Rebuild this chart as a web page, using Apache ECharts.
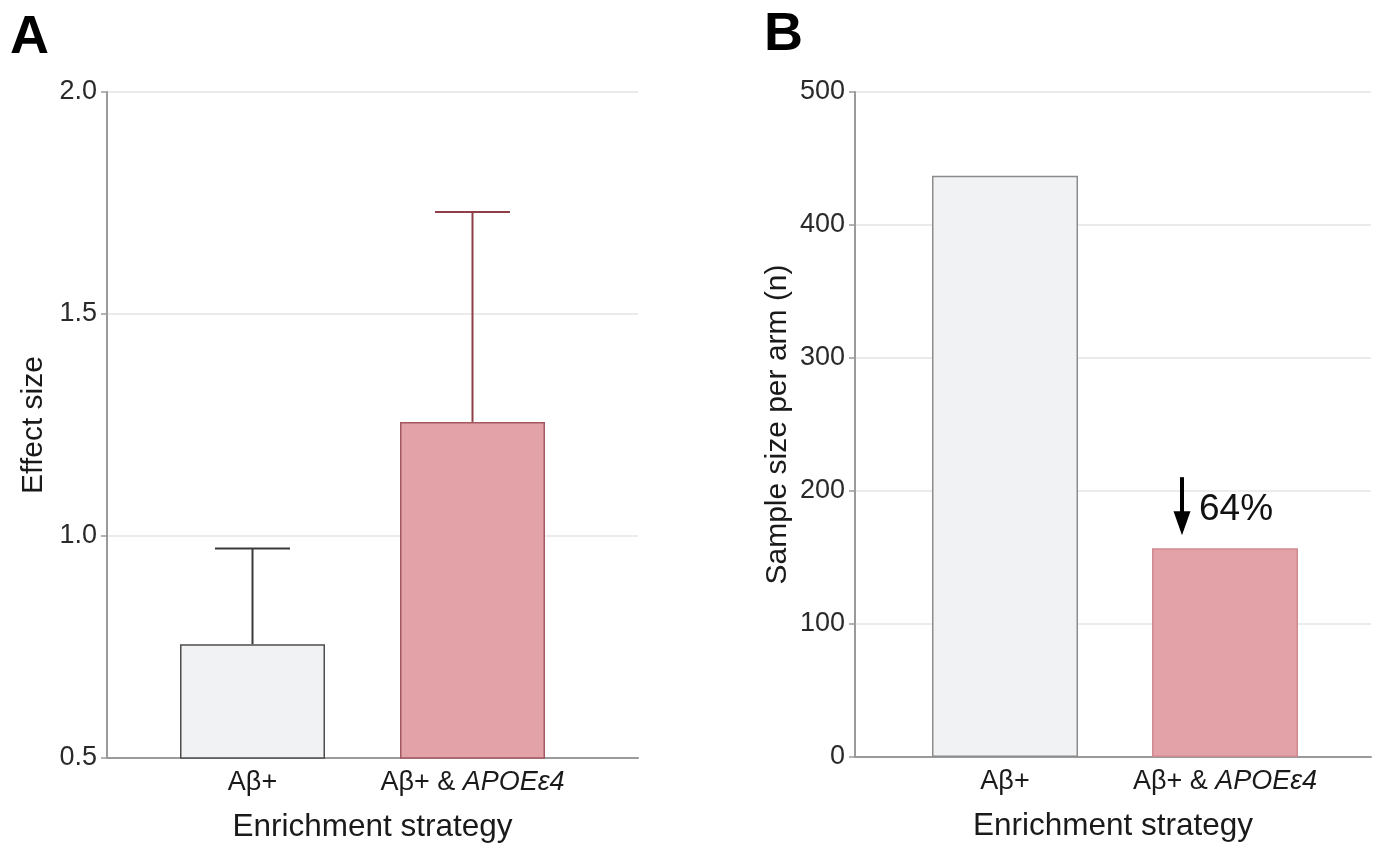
<!DOCTYPE html>
<html>
<head>
<meta charset="utf-8">
<script src="https://cdn.jsdelivr.net/npm/echarts@6/dist/echarts.min.js"></script>
<style>
  html, body { margin: 0; padding: 0; background: #fff; }
  #chart { width: 1376px; height: 848px; }
</style>
</head>
<body>
<div id="chart"></div>
<script>
// ---- data ----
const categories = ['Aβ+', 'Aβ+ & APOEε4'];
const effectSize = [0.756, 1.257];
const effectUpper = [0.972, 1.73];
const sampleSize = [437, 157];
const effectTicks = [0.5, 1.0, 1.5, 2.0];
const sampleTicks = [0, 100, 200, 300, 400, 500];

// ---- styles ----
const FONT = 'Liberation Sans, Arial, Helvetica, sans-serif';
const fills = ['#f1f2f4', '#e3a2a7'];
const strokesA = ['#4d4d4d', '#a35861'];
const strokesB = ['#8c8c8c', '#cf8a90'];
const errColors = ['#3a3a3a', '#8e3f47'];
const axisGray = '#9a9a9a';
const gridGray = '#e4e4e4';

const xPos = categories.map((c, i) => i + 1);

function catLabel(v) {
  const idx = Math.round(v) - 1;
  const s = categories[idx] || '';
  return s.replace('APOEε4', '{i|APOEε4}');
}

function makeX(gridIndex, min, max) {
  return {
    type: 'value', gridIndex, min, max,
    axisLine: { show: true, lineStyle: { color: axisGray, width: 2 } },
    axisTick: { show: false },
    splitLine: { show: false },
    axisLabel: {
      customValues: xPos,
      formatter: catLabel,
      color: '#1a1a1a', fontSize: 27, fontFamily: FONT, margin: 11,
      rich: { i: { fontStyle: 'italic', fontSize: 27, fontFamily: FONT, color: '#1a1a1a' } }
    },
    name: 'Enrichment strategy',
    nameLocation: 'middle', nameGap: 53,
    nameTextStyle: { fontSize: 31.5, fontFamily: FONT, color: '#1a1a1a' }
  };
}

function makeY(gridIndex, ticks, name, nameGap, fmt) {
  return {
    type: 'value', gridIndex,
    min: ticks[0], max: ticks[ticks.length - 1], interval: ticks[1] - ticks[0],
    axisLine: { show: true, lineStyle: { color: axisGray, width: 2 } },
    axisTick: { show: true, length: 6, lineStyle: { color: axisGray, width: 1.5 } },
    splitLine: { show: true, lineStyle: { color: gridGray, width: 1.5 } },
    axisLabel: { color: '#2a2a2a', fontSize: 27, fontFamily: FONT, margin: 10, formatter: fmt },
    name, nameLocation: 'middle', nameRotate: 90, nameGap,
    nameTextStyle: { fontSize: 30, fontFamily: FONT, color: '#1a1a1a' }
  };
}

const chart = echarts.init(document.getElementById('chart'), null, { renderer: 'canvas' });

const reduction = Math.round((1 - sampleSize[1] / sampleSize[0]) * 100) + '%';

chart.setOption({
  backgroundColor: '#fff',
  animation: false,
  graphic: [
    { type: 'text', left: 10, top: 11, style: { text: 'A', fontSize: 54, fontWeight: 'bold', fontFamily: FONT, fill: '#000' } },
    { type: 'text', left: 764, top: 8, style: { text: 'B', fontSize: 54, fontWeight: 'bold', fontFamily: FONT, fill: '#000' } }
  ],
  grid: [
    { left: 107, right: 1376 - 638, top: 92, bottom: 848 - 760, containLabel: false },
    { left: 855, right: 1376 - 1371, top: 92, bottom: 848 - 757, containLabel: false }
  ],
  xAxis: [
    makeX(0, 1 - 145.5 / 220, 2 + 165.5 / 220),
    makeX(1, 1 - 150 / 220, 2 + 146 / 220)
  ],
  yAxis: [
    makeY(0, effectTicks, 'Effect size', 58, v => v.toFixed(1)),
    makeY(1, sampleTicks, 'Sample size per arm (n)', 62, v => String(v))
  ],
  series: [
    {
      type: 'custom', xAxisIndex: 0, yAxisIndex: 0, z: 1,
      data: xPos.map((x, i) => [x, effectSize[i], effectUpper[i]]),
      renderItem: function (params, api) {
        const i = params.dataIndex;
        const p0 = api.coord([api.value(0), api.value(1)]);
        const p1 = api.coord([api.value(0), api.value(2)]);
        const col = errColors[i];
        return {
          type: 'group',
          children: [
            { type: 'line', shape: { x1: p0[0], y1: p0[1], x2: p1[0], y2: p1[1] }, style: { stroke: col, lineWidth: 2 } },
            { type: 'line', shape: { x1: p1[0] - 37.5, y1: p1[1], x2: p1[0] + 37.5, y2: p1[1] }, style: { stroke: col, lineWidth: 2 } }
          ]
        };
      }
    },
    {
      type: 'bar', xAxisIndex: 0, yAxisIndex: 0, barWidth: 145, z: 2,
      data: xPos.map((x, i) => ({
        value: [x, effectSize[i]],
        itemStyle: { color: fills[i], borderColor: strokesA[i], borderWidth: 1.5 }
      }))
    },
    {
      type: 'bar', xAxisIndex: 1, yAxisIndex: 1, barWidth: 146, z: 2,
      data: xPos.map((x, i) => ({
        value: [x, sampleSize[i]],
        itemStyle: { color: fills[i], borderColor: strokesB[i], borderWidth: 1.5 }
      }))
    },
    {
      type: 'custom', xAxisIndex: 1, yAxisIndex: 1, z: 5,
      data: [[xPos[1], sampleSize[1]]],
      renderItem: function (params, api) {
        const top = api.coord([api.value(0), api.value(1)]);
        const ax = top[0] - 43;
        const tipY = top[1] - 13;
        const tailY = tipY - 58;
        return {
          type: 'group',
          children: [
            { type: 'line', shape: { x1: ax, y1: tailY, x2: ax, y2: tipY - 20 }, style: { stroke: '#000', lineWidth: 4 } },
            { type: 'polygon', shape: { points: [[ax - 8.5, tipY - 24], [ax + 8.5, tipY - 24], [ax, tipY]] }, style: { fill: '#000' } },
            { type: 'text', x: ax + 17, y: tipY - 25, style: { text: reduction, fontSize: 37, fontFamily: FONT, fill: '#111', verticalAlign: 'middle', align: 'left' } }
          ]
        };
      }
    }
  ]
});
</script>
</body>
</html>
